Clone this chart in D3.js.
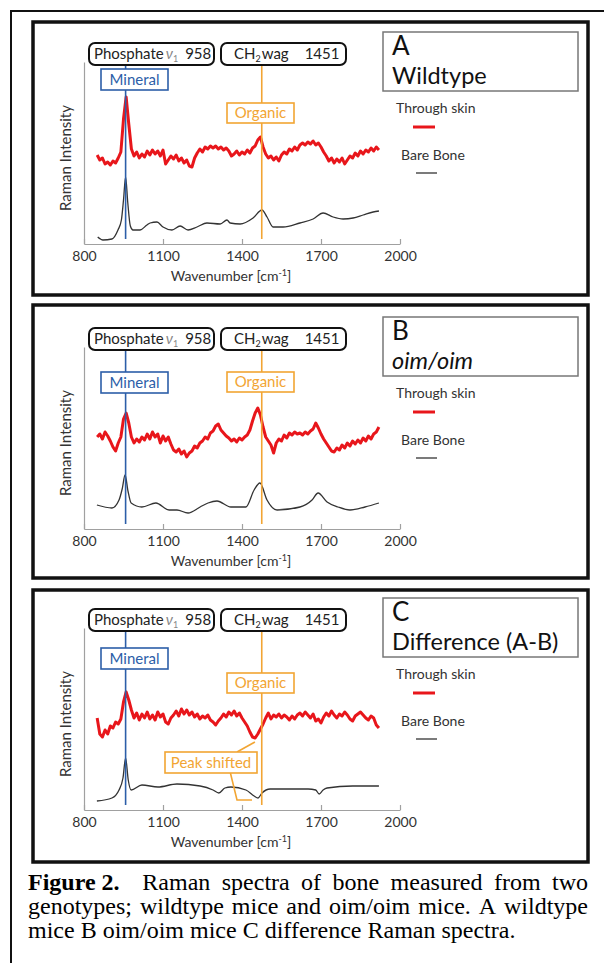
<!DOCTYPE html>
<html>
<head>
<meta charset="utf-8">
<script src="https://cdn.jsdelivr.net/npm/d3@7"></script>
<style>
  html, body { margin: 0; padding: 0; background: #fff; }
  svg { display: block; }
</style>
</head>
<body>
<svg width="604" height="963"></svg>
<script>
const width = 604;
const height = 963;
const sansFont = "Lato, 'Open Sans', sans-serif";
const serifFont = "'Liberation Serif', 'Times New Roman', serif";

// wavenumber axis
const wavenumberTicks = [800, 1100, 1400, 1700, 2000];
const mineralPeak = 958;
const organicLine = 1475;

// through skin spectra (red), sampled every 10 cm-1
const skinWavenumbers = [
    850, 860, 870, 880, 890, 900, 910, 920, 930, 940,
    950, 960, 970, 980, 990, 1000, 1010, 1020, 1030, 1040,
    1050, 1060, 1070, 1080, 1090, 1100, 1110, 1120, 1130, 1140,
    1150, 1160, 1170, 1180, 1190, 1200, 1210, 1220, 1230, 1240,
    1250, 1260, 1270, 1280, 1290, 1300, 1310, 1320, 1330, 1340,
    1350, 1360, 1370, 1380, 1390, 1400, 1410, 1420, 1430, 1440,
    1450, 1460, 1470, 1480, 1490, 1500, 1510, 1520, 1530, 1540,
    1550, 1560, 1570, 1580, 1590, 1600, 1610, 1620, 1630, 1640,
    1650, 1660, 1670, 1680, 1690, 1700, 1710, 1720, 1730, 1740,
    1750, 1760, 1770, 1780, 1790, 1800, 1810, 1820, 1830, 1840,
    1850, 1860, 1870, 1880, 1890, 1900, 1910, 1920
];
const wildtypeSkin = [
    89, 84, 86, 80, 82, 79, 83, 81, 86, 92,
    125, 147, 120, 95, 88, 92, 86, 90, 87, 93,
    89, 94, 90, 93, 88, 94, 80, 84, 88, 85,
    89, 83, 86, 81, 84, 78, 77, 86, 91, 95,
    92, 97, 95, 98, 96, 98, 95, 97, 94, 96,
    93, 88, 90, 93, 89, 92, 90, 94, 91, 96,
    98, 104, 107, 97, 90, 86, 88, 84, 87, 83,
    89, 92, 90, 95, 93, 97, 94, 99, 101, 99,
    102, 100, 103, 99, 101, 97, 92, 88, 83, 86,
    81, 85, 82, 86, 80, 84, 88, 86, 91, 88,
    93, 90, 94, 92, 96, 93, 97, 94
];
const oimSkin = [
    92, 95, 90, 97, 93, 88, 82, 78, 86, 92,
    110, 116, 106, 92, 86, 90, 87, 92, 89, 95,
    90, 97, 92, 95, 86, 93, 88, 92, 85, 79,
    77, 80, 75, 78, 72, 76, 78, 83, 81, 86,
    88, 92, 90, 96, 98, 103, 105, 99, 96, 93,
    91, 88, 90, 87, 91, 89, 92, 94, 99, 108,
    116, 121, 114, 102, 92, 88, 84, 76, 86, 90,
    88, 94, 91, 96, 94, 97, 95, 96, 94, 97,
    95, 98, 100, 106, 101, 95, 90, 86, 82, 78,
    77, 81, 79, 84, 81, 86, 83, 88, 85, 89,
    86, 91, 88, 93, 90, 95, 97, 102
];
const differenceSkin = [
    92, 76, 73, 80, 76, 84, 82, 88, 86, 91,
    108, 118, 110, 100, 92, 97, 90, 96, 92, 98,
    91, 95, 90, 98, 93, 96, 88, 86, 92, 95,
    99, 94, 101, 96, 100, 95, 98, 93, 96, 91,
    94, 92, 95, 90, 88, 85, 89, 92, 96, 93,
    98, 95, 99, 94, 97, 92, 88, 84, 78, 73,
    72, 76, 81, 86, 92, 97, 91, 95, 93, 96,
    92, 95, 93, 90, 94, 91, 95, 97, 94, 98,
    95, 92, 96, 89, 91, 87, 93, 97, 94, 99,
    95, 92, 96, 94, 98, 95, 91, 89, 94, 96,
    98, 95, 92, 90, 94, 92, 85, 82
];

// bare bone spectra (black)
const wildtypeBoneWn = [852, 872, 906, 929, 942, 950, 958, 966, 976, 986, 1013, 1039, 1051, 1077, 1100, 1134, 1165, 1195, 1229, 1267, 1317, 1343, 1355, 1393, 1442, 1476, 1495, 1518, 1556, 1620, 1670, 1708, 1746, 1784, 1822, 1860, 1898, 1920];
const wildtypeBone = [7, 4, 5, 14, 24, 44, 67, 42, 18, 14, 14, 19, 21, 22, 17, 14, 18, 14, 17, 21, 20, 24, 21, 20, 26, 34, 27, 17, 17, 21, 25, 31, 27, 25, 26, 29, 32, 33];
const oimBoneWn = [849, 906, 933, 945, 956, 967, 979, 1020, 1073, 1123, 1153, 1195, 1241, 1271, 1305, 1358, 1415, 1446, 1468, 1495, 1533, 1620, 1666, 1689, 1723, 1765, 1810, 1867, 1920];
const oimBone = [24, 21, 29, 40, 54, 38, 26, 22, 26, 19, 19, 16, 22, 26, 28, 22, 22, 39, 46, 29, 19, 22, 29, 36, 27, 22, 19, 22, 26];
const differenceBoneWn = [849, 906, 933, 948, 958, 968, 979, 1020, 1081, 1153, 1241, 1290, 1312, 1335, 1358, 1415, 1446, 1461, 1476, 1507, 1590, 1651, 1680, 1693, 1708, 1723, 1820, 1920];
const differenceBone = [9, 12, 20, 32, 52, 30, 20, 25, 23, 26, 24, 20, 17, 22, 23, 20, 14, 12, 17, 21, 21, 21, 20, 16, 20, 22, 24, 24];

const panelLetters = ["A", "B", "C"];
const panelTitles = ["Wildtype", "oim/oim", "Difference (A-B)"];
const legendLabels = ["Through skin", "Bare Bone"];
const captionLines = [
    [{t: "Figure 2.", b: true, gap: 2}, {t: "Raman"}, {t: "spectra"}, {t: "of"}, {t: "bone"}, {t: "measured"}, {t: "from"}, {t: "two"}],
    "genotypes; wildtype mice and oim/oim mice. A wildtype".split(" ").map(t => ({t})),
    "mice B oim/oim mice C difference Raman spectra.".split(" ").map(t => ({t}))
];

// layout
const panelLayout = [
    {frameTop: 22, frameBottom: 295, axisY: 244, mineralTop: -175, organicTop: -141},
    {frameTop: 305, frameBottom: 578, axisY: 529, mineralTop: -157, organicTop: -157},
    {frameTop: 590, frameBottom: 862, axisY: 810, mineralTop: -162, organicTop: -137}
];
const skinSeries = [wildtypeSkin, oimSkin, differenceSkin];
const boneSeries = [[wildtypeBoneWn, wildtypeBone], [oimBoneWn, oimBone], [differenceBoneWn, differenceBone]];

const blue = "#2c5ea8";
const orange = "#f2a533";
const red = "#e8161b";

const x = d3.scaleLinear().domain([800, 2000]).range([84, 400]);

const svg = d3.select("svg");

svg.append("rect")
    .attr("x", 11).attr("y", 11)
    .attr("width", 640).attr("height", 990)
    .attr("fill", "none").attr("stroke", "#111").attr("stroke-width", 2);

panelLayout.forEach((p, i) => drawPanel(p, i));
drawCaption();

function drawPanel(p, i) {
    const g = svg.append("g");
    const ay = p.axisY;
    const y = d3.scaleLinear().domain([0, 182]).range([ay, ay - 182]);

    g.append("rect")
        .attr("x", 33).attr("y", p.frameTop)
        .attr("width", 555).attr("height", p.frameBottom - p.frameTop)
        .attr("fill", "none").attr("stroke", "#111").attr("stroke-width", 3.5);

    // axes
    const xAxis = g.append("g")
        .attr("transform", `translate(0,${ay})`)
        .call(d3.axisBottom(x).tickValues(wavenumberTicks).tickFormat(d3.format("d"))
            .tickSize(-5).tickSizeOuter(0).tickPadding(7));
    const yAxis = g.append("g")
        .attr("transform", `translate(${x(800)},0)`)
        .call(d3.axisLeft(y).tickValues([]).tickSizeOuter(0));
    [xAxis, yAxis].forEach(a => {
        a.selectAll("path, line").attr("stroke", "#a0a0a0").attr("stroke-width", 1.2);
        a.selectAll("text").attr("fill", "#333").style("font-family", sansFont).style("font-size", "14px");
    });

    const xt = g.append("text")
        .attr("x", 231).attr("y", ay + 37)
        .attr("text-anchor", "middle")
        .style("font-family", sansFont).style("font-size", "14px").attr("fill", "#333");
    xt.append("tspan").text("Wavenumber [cm");
    xt.append("tspan").attr("dy", -5).style("font-size", "9px").text("-1");
    xt.append("tspan").attr("dy", 5).text("]");

    g.append("text")
        .attr("transform", `translate(71,${ay - 86}) rotate(-90)`)
        .attr("text-anchor", "middle")
        .style("font-family", sansFont).style("font-size", "15px").attr("fill", "#333")
        .text("Raman Intensity");

    // spectra
    const skinLine = d3.line()
        .x((d, k) => x(skinWavenumbers[k]))
        .y(d => y(d));
    g.append("path")
        .attr("d", skinLine(skinSeries[i]))
        .attr("fill", "none").attr("stroke", red).attr("stroke-width", 3)
        .attr("stroke-linejoin", "round");

    const [bw, bv] = boneSeries[i];
    const boneLine = d3.line()
        .x((d, k) => x(bw[k]))
        .y(d => y(d))
        .curve(d3.curveMonotoneX);
    g.append("path")
        .attr("d", boneLine(bv))
        .attr("fill", "none").attr("stroke", "#333").attr("stroke-width", 1.3);

    // marker lines
    g.append("line")
        .attr("x1", x(mineralPeak)).attr("x2", x(mineralPeak))
        .attr("y1", ay - 179).attr("y2", ay - 5)
        .attr("stroke", blue).attr("stroke-width", 1.6);
    g.append("line")
        .attr("x1", x(organicLine)).attr("x2", x(organicLine))
        .attr("y1", ay - 179).attr("y2", ay - 5)
        .attr("stroke", orange).attr("stroke-width", 1.6);

    // band boxes
    const phos = g.append("g").attr("transform", `translate(89,${ay - 201})`);
    phos.append("rect").attr("width", 125).attr("height", 22).attr("rx", 6)
        .attr("fill", "#fff").attr("stroke", "#111").attr("stroke-width", 2);
    const pt = phos.append("text").attr("x", 5).attr("y", 16)
        .style("font-family", sansFont).style("font-size", "15px").attr("fill", "#222");
    pt.append("tspan").text("Phosphate");
    pt.append("tspan").attr("dx", 2).attr("fill", "#888").style("font-style", "italic").text("ν");
    pt.append("tspan").attr("dy", 3).attr("fill", "#888").style("font-size", "9px").text("1");
    pt.append("tspan").attr("dy", -3).attr("dx", 7).text("958");

    const ch = g.append("g").attr("transform", `translate(221,${ay - 201})`);
    ch.append("rect").attr("width", 125).attr("height", 22).attr("rx", 6)
        .attr("fill", "#fff").attr("stroke", "#111").attr("stroke-width", 2);
    const ct = ch.append("text").attr("x", 13).attr("y", 16)
        .style("font-family", sansFont).style("font-size", "15px").attr("fill", "#222");
    ct.append("tspan").text("CH");
    ct.append("tspan").attr("dy", 3).style("font-size", "9px").text("2");
    ct.append("tspan").attr("dy", -3).attr("dx", 1).text("wag");
    ct.append("tspan").attr("dx", 16).text("1451");

    const addTag = (tx, ty, w, h, label, color) => {
        g.append("rect").attr("x", tx).attr("y", ty).attr("width", w).attr("height", h)
            .attr("fill", "#fff").attr("stroke", color).attr("stroke-width", 1.6);
        g.append("text").attr("x", tx + w / 2).attr("y", ty + h - 5)
            .attr("text-anchor", "middle")
            .style("font-family", sansFont).style("font-size", "15px").attr("fill", color)
            .text(label);
    };
    addTag(101, ay + p.mineralTop, 67, 21, "Mineral", blue);
    addTag(227, ay + p.organicTop, 67, 20, "Organic", orange);

    if (i === 2) {
        g.append("path")
            .attr("d", `M${x(1449)},${ay - 68}L${x(1381)},${ay - 58}`)
            .attr("fill", "none").attr("stroke", orange).attr("stroke-width", 1.6);
        g.append("path")
            .attr("d", `M${x(1356)},${ay - 37}L${x(1381)},${ay - 10}L${x(1438)},${ay - 10}`)
            .attr("fill", "none").attr("stroke", orange).attr("stroke-width", 1.6);
        addTag(165, ay - 58, 92, 21, "Peak shifted", orange);
    }

    // title box
    g.append("rect").attr("x", 383).attr("y", ay - 212).attr("width", 195).attr("height", 59)
        .attr("fill", "#fff").attr("stroke", "#777").attr("stroke-width", 1.5);
    g.append("text").attr("x", 392).attr("y", ay - 189)
        .style("font-family", sansFont).style("font-size", "26px").attr("fill", "#111")
        .text(panelLetters[i]);
    g.append("text").attr("x", 392).attr("y", ay - 160)
        .style("font-family", sansFont).style("font-size", "23.5px").attr("fill", "#111")
        .style("font-style", i === 1 ? "italic" : "normal")
        .text(panelTitles[i]);

    // legend
    g.append("text").attr("x", 396).attr("y", ay - 131)
        .style("font-family", sansFont).style("font-size", "14px").attr("fill", "#333")
        .text(legendLabels[0]);
    g.append("line").attr("x1", 413).attr("x2", 435).attr("y1", ay - 117).attr("y2", ay - 117)
        .attr("stroke", red).attr("stroke-width", 3);
    g.append("text").attr("x", 401).attr("y", ay - 84)
        .style("font-family", sansFont).style("font-size", "14px").attr("fill", "#333")
        .text(legendLabels[1]);
    g.append("line").attr("x1", 416).attr("x2", 437).attr("y1", ay - 71).attr("y2", ay - 71)
        .attr("stroke", "#333").attr("stroke-width", 1.3);
}

function drawCaption() {
    const left = 28, right = 588;
    const baselines = [890, 914, 938];
    captionLines.forEach((words, li) => {
        const nodes = words.map(w => svg.append("text")
            .attr("y", baselines[li])
            .style("font-family", serifFont).style("font-size", "24px")
            .style("font-weight", w.b ? "bold" : "normal")
            .attr("fill", "#000")
            .text(w.t));
        const widths = nodes.map(n => n.node().getComputedTextLength());
        const gaps = words.slice(0, -1).map(w => w.gap || 1);
        const space = 6;
        let gapUnit = space;
        if (li < captionLines.length - 1) {
            const total = d3.sum(widths);
            gapUnit = (right - left - total) / d3.sum(gaps);
        }
        let cx = left;
        nodes.forEach((n, k) => {
            n.attr("x", cx);
            cx += widths[k] + (k < gaps.length ? gaps[k] * gapUnit : 0);
        });
    });
}
</script>
</body>
</html>
